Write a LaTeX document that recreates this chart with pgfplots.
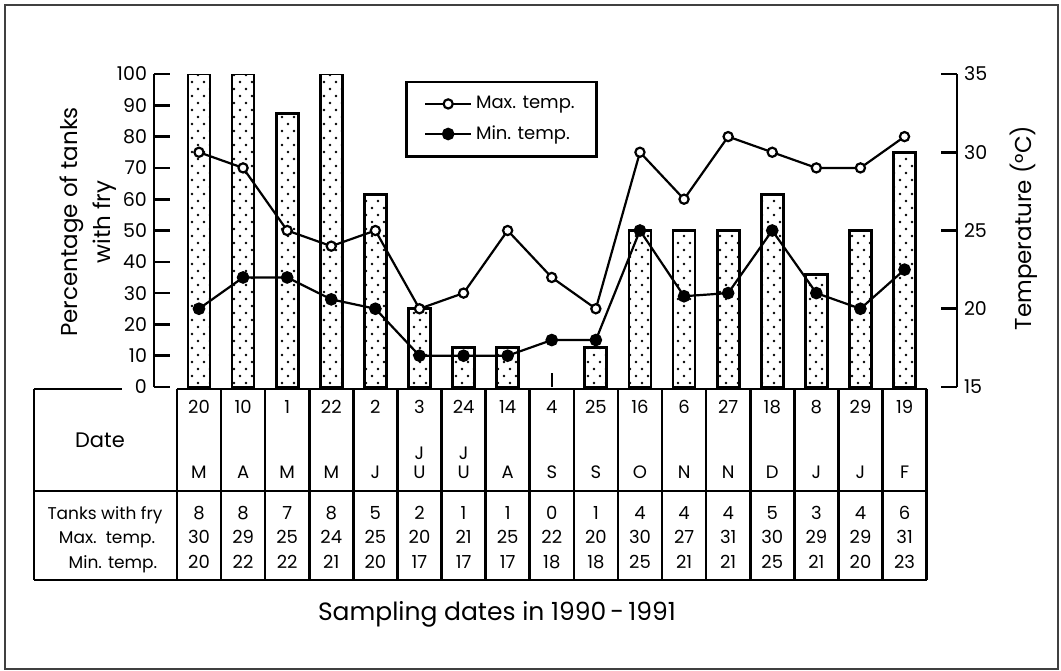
\documentclass[border=0pt]{standalone}
\usepackage{fontspec}
\setmainfont{Poppins}
\usepackage{pgfplots}
\pgfplotsset{compat=1.18}
\usetikzlibrary{patterns}

% sparse staggered dots for the bars
\pgfdeclarepatternformonly{sparsedots}{\pgfqpoint{-1pt}{-1pt}}{\pgfqpoint{5pt}{5pt}}{\pgfqpoint{6pt}{7pt}}{%
  \pgfpathcircle{\pgfqpoint{0pt}{0pt}}{0.7pt}%
  \pgfpathcircle{\pgfqpoint{3pt}{3.5pt}}{0.7pt}%
  \pgfusepath{fill}}

\pgfplotsset{
  common/.style={
    scale only axis, width=401.5pt, height=156.5pt,
    xmin=-0.02, xmax=18.19,
    axis x line=none,
    tick align=inside, major tick length=8pt,
    every tick/.style={black, line width=1.3pt},
    axis line style={line width=1.3pt},
    /pgf/number format/assume math mode=true,
    tick label style={font=\fontsize{9.5}{11}\selectfont},
  }
}

\begin{document}
\begin{tikzpicture}
% bars: percentage of tanks with fry
\begin{axis}[common,
  ymin=0, ymax=100,
  axis y line*=left,
  ytick={0,10,...,100},
]
\addplot[ybar, bar width=0.5, draw=black, line width=1.4pt, pattern=sparsedots]
  coordinates {(1,100) (2,100) (3,87.5) (4,100) (5,61.5) (6,25) (7,12.5) (8,12.5)
               (10,12.5) (11,50) (12,50) (13,50) (14,61.5) (15,36) (16,50) (17,75)};
\addplot[black, line width=1pt] coordinates {(9,0) (9,4.5)};
\end{axis}

% lines: temperatures
\begin{axis}[common,
  ymin=15, ymax=35,
  axis y line*=right,
  ytick={15,20,...,35},
  legend style={at={(0.3126,0.978)}, anchor=north west, draw=black, line width=1.3pt,
    font=\fontsize{9}{11}\selectfont, inner xsep=9pt, inner ysep=5pt, row sep=3pt},
  legend cell align=left,
  legend image code/.code={\draw[mark repeat=2,mark phase=2] plot coordinates {(0cm,0cm) (0.4cm,0cm) (0.8cm,0cm)};},
]
\addplot[black, line width=1.1pt, mark=*, mark size=2.3pt, mark options={fill=white, line width=1.1pt}]
  coordinates {(1,30) (2,29) (3,25) (4,24) (5,25) (6,20) (7,21) (8,25) (9,22)
               (10,20) (11,30) (12,27) (13,31) (14,30) (15,29) (16,29) (17,31)};
\addlegendentry{Max. temp.}
\addplot[black, line width=1.1pt, mark=*, mark size=2.6pt, mark options={fill=black}]
  coordinates {(1,20) (2,22) (3,22) (4,20.6) (5,20) (6,17) (7,17) (8,17) (9,18)
               (10,18) (11,25) (12,20.8) (13,21) (14,25) (15,21) (16,20) (17,22.5)};
\addlegendentry{Min. temp.}
\end{axis}

% frame, table and labels in pixel units of the 1061x670 picture
\begin{scope}[x=0.5pt, y=-0.5pt, shift={(-77pt,193.5pt)}]
  \draw[line width=0.8pt, black!75] (5,5) rectangle (1058,669);
  % table grid
  \begin{scope}[line width=1.3pt]
    \draw (34,389) -- (122,389);
    \draw (177,389) -- (926.65,389);
    \draw (34,491) -- (926.65,491);
    \draw (34,580) -- (926.65,580);
    \draw (34,389) -- (34,580);
    \foreach \j in {0,...,17} {
      \draw ({176.95+44.1*\j},389) -- ({176.95+44.1*\j},580);
    }
  \end{scope}
  \node[font=\fontsize{10.5}{12}\selectfont] at (100,440) {Date};
  \node[font=\fontsize{8.5}{10}\selectfont, anchor=base] at (105,519) {Tanks with fry};
  \node[font=\fontsize{8.5}{10}\selectfont, anchor=base] at (107,543) {Max.\ \ temp.};
  \node[font=\fontsize{8.5}{10}\selectfont, anchor=base] at (113,568) {Min. temp.};
  \foreach \d [count=\i] in {20,10,1,22,2,3,24,14,4,25,16,6,27,18,8,29,19}
    \node[font=\fontsize{9}{10}\selectfont, anchor=base] at ({199+44.1*(\i-1)},413) {\d};
  \foreach \m [count=\i] in {M,A,M,M,J,{\shortstack{J\\U}},{\shortstack{J\\U}},A,S,S,O,N,N,D,J,J,F}
    \node[font=\fontsize{9}{10}\selectfont, anchor=base, inner sep=0pt] at ({199+44.1*(\i-1)},478) {\m};
  \foreach \t [count=\i] in {8,8,7,8,5,2,1,1,0,1,4,4,4,5,3,4,6}
    \node[font=\fontsize{9}{10}\selectfont, anchor=base] at ({199+44.1*(\i-1)},519) {\t};
  \foreach \t [count=\i] in {30,29,25,24,25,20,21,25,22,20,30,27,31,30,29,29,31}
    \node[font=\fontsize{9}{10}\selectfont, anchor=base] at ({199+44.1*(\i-1)},543) {\t};
  \foreach \t [count=\i] in {20,22,22,21,20,17,17,17,18,18,25,21,21,25,21,20,23}
    \node[font=\fontsize{9}{10}\selectfont, anchor=base] at ({199+44.1*(\i-1)},568) {\t};
  % axis titles
  \node[rotate=90, align=center, font=\fontsize{11.5}{16.5}\selectfont] at (88,222) {Percentage of tanks\\with fry};
  \node[rotate=90, font=\fontsize{11.5}{14}\selectfont] at (1024,228) {Temperature (°C)};
  \node[font=\fontsize{12.5}{15}\selectfont] at (497,614) {Sampling dates in 1990\,-\,1991};
  \pgfresetboundingbox
  \useasboundingbox (0,0) rectangle (1061,670);
\end{scope}
\end{tikzpicture}
\end{document}
